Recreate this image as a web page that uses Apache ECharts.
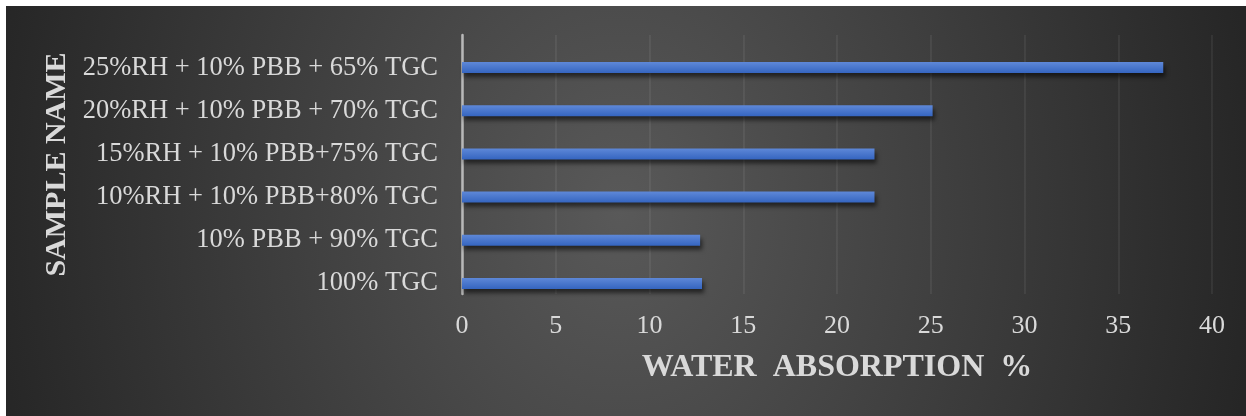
<!DOCTYPE html>
<html>
<head>
<meta charset="utf-8">
<script src="https://cdn.jsdelivr.net/npm/echarts@6/dist/echarts.min.js"></script>
<style>
  html, body { margin: 0; padding: 0; background: #ffffff; }
  #chart {
    position: absolute; left: 6px; top: 6px; width: 1240px; height: 410px;
    background: radial-gradient(ellipse 640px 800px at 614px 204px, #595959 0%, #262626 100%);
  }
</style>
</head>
<body>
<div id="chart"></div>
<script>
// Sample mixes, listed bottom to top as they appear on the category axis
const categories = [
  '100% TGC',
  '10% PBB + 90% TGC',
  '10%RH + 10% PBB+80% TGC',
  '15%RH + 10% PBB+75% TGC',
  '20%RH + 10% PBB + 70% TGC',
  '25%RH + 10% PBB + 65% TGC'
];
// Water absorption (%) for each mix
const waterAbsorption = [12.8, 12.7, 22.0, 22.0, 25.1, 37.4];
// Value axis ticks
const xTicks = { min: 0, max: 40, interval: 5 };

const serif = '"Liberation Serif", "Times New Roman", serif';
const textColor = '#d9d9d9';

const chart = echarts.init(document.getElementById('chart'));
chart.setOption({
  backgroundColor: 'transparent',
  animation: false,
  // grid 0: gridlines, value labels, axis line; grid 1: bars and category labels
  grid: [
    { left: 456, right: 34, top: 29, bottom: 122, containLabel: false },
    { left: 456, right: 34, top: 40, bottom: 111, containLabel: false }
  ],
  xAxis: [
    {
      gridIndex: 0,
      type: 'value',
      min: xTicks.min, max: xTicks.max, interval: xTicks.interval,
      name: 'WATER  ABSORPTION  %',
      nameLocation: 'middle',
      nameGap: 58,
      nameTextStyle: { fontFamily: serif, fontWeight: 'bold', fontSize: 32, color: textColor },
      axisLine: { show: false },
      axisTick: { show: false },
      axisLabel: { fontFamily: serif, fontSize: 26, color: textColor, margin: 19 },
      splitLine: { show: true, lineStyle: { color: 'rgba(255,255,255,0.08)', width: 1.6 } }
    },
    {
      gridIndex: 1,
      type: 'value',
      min: xTicks.min, max: xTicks.max, interval: xTicks.interval,
      show: false
    }
  ],
  yAxis: [
    {
      gridIndex: 0,
      type: 'category',
      data: categories,
      name: 'SAMPLE NAME',
      nameLocation: 'middle',
      nameGap: 390,
      nameRotate: 90,
      nameTextStyle: { fontFamily: serif, fontWeight: 'bold', fontSize: 30, color: textColor },
      axisLine: { show: true, lineStyle: { color: '#b8b8b8', width: 2.5 } },
      axisTick: { show: false },
      axisLabel: { show: false },
      splitLine: { show: false }
    },
    {
      gridIndex: 1,
      type: 'category',
      data: categories,
      axisLine: { show: false },
      axisTick: { show: false },
      axisLabel: { fontFamily: serif, fontSize: 26.5, color: textColor, margin: 24 },
      splitLine: { show: false }
    }
  ],
  series: [
    {
      type: 'bar',
      name: 'Water absorption',
      xAxisIndex: 1,
      yAxisIndex: 1,
      data: waterAbsorption,
      barWidth: 11,
      itemStyle: {
        color: new echarts.graphic.LinearGradient(0, 0, 0, 1, [
          { offset: 0, color: '#5e88d8' },
          { offset: 1, color: '#3565c0' }
        ]),
        shadowColor: 'rgba(0,0,0,0.55)',
        shadowBlur: 4,
        shadowOffsetX: 2,
        shadowOffsetY: 4
      }
    }
  ]
});
</script>
</body>
</html>
